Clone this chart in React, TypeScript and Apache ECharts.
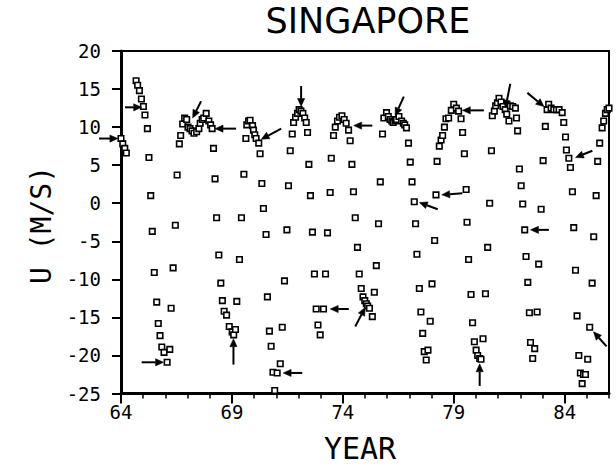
import React, { useEffect, useRef } from "react";
import * as echarts from "echarts";

const yearsA = [64.00, 64.08, 64.17, 64.24, 64.68, 64.75, 64.83, 64.92, 65.01, 65.08, 65.19, 65.26, 65.34, 65.41, 65.50, 65.61, 65.68, 65.76, 65.84, 65.94, 66.08, 66.20, 66.26, 66.35, 66.45, 66.53, 66.63, 66.69, 66.78, 66.87, 66.96, 67.02, 67.11, 67.20, 67.29, 67.41, 67.51, 67.57, 67.66, 67.73, 67.84, 67.96, 68.04, 68.11];
const windA = [8.5, 7.8, 7.2, 6.6, 16.1, 15.5, 14.8, 13.7, 12.7, 11.6, 9.8, 6.0, 1.0, -3.7, -9.1, -13.0, -15.8, -17.4, -18.9, -19.6, -20.9, -19.2, -13.8, -8.5, -2.9, 3.7, 7.8, 8.9, 10.4, 11.2, 11.0, 10.0, 9.8, 9.5, 9.2, 9.4, 9.8, 10.5, 11.0, 11.2, 11.8, 10.8, 10.3, 9.8];

const yearsB = [68.17, 68.24, 68.31, 68.41, 68.50, 68.57, 68.65, 68.76, 68.88, 69.01, 69.08, 69.16, 69.22, 69.34, 69.43, 69.54, 69.63, 69.67, 69.75, 69.82, 69.93, 69.97, 70.03, 70.09, 70.21, 70.27, 70.35, 70.42, 70.54, 70.60, 70.69, 70.77, 70.85, 70.93, 71.04, 71.18, 71.27, 71.37, 71.48, 71.55, 71.63, 71.72, 71.78, 71.87, 71.96, 72.03, 72.11, 72.20, 72.28, 72.35, 72.41, 72.47, 72.54, 72.63, 72.72, 72.80, 72.88, 72.98];
const windB = [7.2, 3.2, -1.9, -6.8, -10.5, -12.8, -14.2, -14.7, -16.2, -16.9, -17.3, -16.6, -12.9, -7.4, -1.9, 3.8, 8.5, 10.3, 10.8, 10.9, 10.2, 9.6, 9.0, 8.5, 7.9, 6.5, 2.6, -0.7, -4.1, -12.3, -16.8, -18.8, -22.2, -24.6, -22.3, -21.1, -16.3, -10.2, -3.5, 2.3, 6.9, 9.1, 10.6, 11.3, 11.8, 12.3, 12.1, 11.8, 11.2, 10.6, 9.3, 5.1, 1.0, -3.8, -9.3, -13.9, -16.0, -17.3];

const yearsC = [73.13, 73.22, 73.31, 73.43, 73.48, 73.58, 73.66, 73.76, 73.85, 73.96, 74.06, 74.15, 74.26, 74.33, 74.41, 74.48, 74.56, 74.66, 74.74, 74.83, 74.91, 74.99, 75.06, 75.12, 75.20, 75.33, 75.42, 75.51, 75.61, 75.69, 75.79, 75.85, 75.97, 76.05, 76.13, 76.21, 76.27, 76.35, 76.42, 76.53, 76.65, 76.73, 76.79, 76.87, 76.96, 77.04, 77.12, 77.22, 77.28, 77.34, 77.45, 77.52, 77.60, 77.67, 77.76, 77.84, 77.94, 78.02, 78.14];
const windC = [-13.9, -9.3, -3.9, 1.4, 5.9, 8.9, 10.0, 10.8, 11.3, 11.5, 11.0, 10.5, 9.6, 8.2, 5.1, 1.5, -1.9, -5.8, -9.3, -11.2, -12.3, -12.8, -13.2, -13.5, -13.8, -14.9, -11.7, -8.2, -2.7, 2.8, 9.1, 11.2, 11.9, 11.4, 11.0, 10.8, 10.6, 10.8, 11.0, 11.4, 10.8, 10.5, 10.3, 9.9, 7.9, 5.4, 2.8, 0.2, -2.7, -6.7, -11.2, -14.3, -17.1, -19.5, -20.6, -19.3, -15.5, -10.6, -4.9];

const yearsD = [78.20, 78.25, 78.35, 78.43, 78.50, 78.58, 78.65, 78.77, 78.89, 79.00, 79.12, 79.22, 79.33, 79.40, 79.48, 79.56, 79.60, 79.67, 79.78, 79.85, 79.93, 80.01, 80.08, 80.17, 80.23, 80.32, 80.43, 80.53, 80.62, 80.70, 80.74, 80.83, 80.89, 80.97, 81.04, 81.13, 81.22, 81.32, 81.39, 81.49, 81.55, 81.66, 81.78, 81.83, 81.88, 81.96, 82.04, 82.11, 82.20, 82.26, 82.34, 82.41, 82.46, 82.56, 82.65, 82.76, 82.83, 82.94, 83.03, 83.13, 83.21, 83.28, 83.39, 83.51, 83.63, 83.75, 83.89, 83.96, 84.04, 84.08, 84.19, 84.26, 84.35, 84.41, 84.49, 84.56, 84.64, 84.71, 84.79, 84.85, 84.94, 85.04, 85.13, 85.24, 85.31, 85.42, 85.49, 85.58, 85.69, 85.76, 85.84, 85.92, 86.00];
const windD = [1.1, 5.5, 7.5, 8.3, 8.9, 10.0, 11.1, 11.2, 12.2, 13.0, 12.5, 12.1, 11.1, 9.3, 6.5, 1.8, -2.5, -7.4, -12.0, -15.7, -18.2, -19.3, -20.0, -20.4, -20.5, -17.8, -11.9, -5.8, 0.0, 6.9, 11.5, 12.1, 12.8, 13.2, 13.8, 13.3, 12.7, 12.3, 11.7, 10.8, 12.8, 12.7, 12.5, 11.2, 9.5, 4.5, 2.3, -0.1, -3.5, -7.0, -10.4, -14.4, -18.3, -20.4, -19.1, -14.3, -8.0, -0.8, 5.6, 10.1, 12.3, 13.0, 12.5, 12.3, 12.3, 12.3, 11.9, 10.6, 8.7, 7.0, 5.9, 4.7, 1.5, -3.2, -8.8, -14.8, -20.0, -22.3, -23.7, -22.5, -22.5, -20.5, -16.3, -10.5, -4.4, 1.0, 5.5, 7.9, 9.9, 10.8, 11.8, 12.3, 12.5];

// Annotation arrows: [tip year, tip U, tail year, tail U]
const arrows = [
  [63.86, 8.5, 63.01, 8.5],
  [64.93, 12.6, 64.18, 12.6],
  [65.92, -20.9, 64.93, -20.9],
  [67.23, 11.2, 67.61, 13.4],
  [68.24, 9.8, 69.19, 9.8],
  [69.07, -17.8, 69.07, -21.2],
  [70.32, 8.4, 71.22, 9.8],
  [71.31, -22.3, 72.17, -22.3],
  [72.12, 12.7, 72.12, 15.4],
  [73.43, -13.9, 74.27, -13.9],
  [74.49, 10.2, 75.33, 10.2],
  [75.01, -13.7, 74.56, -16.2],
  [76.36, 11.5, 76.75, 14.0],
  [77.45, 0.1, 78.28, -0.8],
  [78.46, 1.1, 79.39, 1.3],
  [79.39, 12.2, 80.36, 12.2],
  [80.17, -21.1, 80.17, -24.0],
  [81.33, 12.5, 81.55, 15.7],
  [82.46, -3.5, 83.29, -3.5],
  [83.07, 12.7, 82.32, 14.5],
  [84.49, 6.0, 85.25, 6.9],
  [85.30, -16.9, 85.89, -18.8],
];

const yearTicks = [64, 69, 74, 79, 84];
const FONT = "DejaVu Sans Mono";

function pairs(xs: number[], ys: number[]) {
  return xs.map((x, i) => [x, ys[i]]);
}

export default function App() {
  const ref = useRef<HTMLDivElement>(null);
  useEffect(() => {
    const chart = echarts.init(ref.current!, null, { renderer: "svg" });
    const points = [
      ...pairs(yearsA, windA),
      ...pairs(yearsB, windB),
      ...pairs(yearsC, windC),
      ...pairs(yearsD, windD),
    ];
    const renderArrow = (_params: any, api: any) => {
      const tip = api.coord([api.value(0), api.value(1)]);
      const tail = api.coord([api.value(2), api.value(3)]);
      const dx = tip[0] - tail[0];
      const dy = tip[1] - tail[1];
      const len = Math.hypot(dx, dy) || 1;
      const ux = dx / len;
      const uy = dy / len;
      const headLen = 8;
      const headW = 3.6;
      const bx = tip[0] - ux * headLen;
      const by = tip[1] - uy * headLen;
      return {
        type: "group",
        children: [
          {
            type: "line",
            shape: { x1: tail[0], y1: tail[1], x2: bx, y2: by },
            style: { stroke: "#000", lineWidth: 2 },
          },
          {
            type: "polygon",
            shape: {
              points: [
                [tip[0], tip[1]],
                [bx - uy * headW, by + ux * headW],
                [bx + uy * headW, by - ux * headW],
              ],
            },
            style: { fill: "#000", stroke: "#000", lineWidth: 0.5 },
          },
        ],
      };
    };
    chart.setOption({
      animation: false,
      backgroundColor: "#fff",
      grid: {
        left: 121,
        right: 7,
        top: 51,
        bottom: 73.5,
        show: true,
        borderColor: "#000",
        borderWidth: 2,
        backgroundColor: "transparent",
      },
      xAxis: [
        {
          type: "value",
          min: 64,
          max: 86,
          interval: 1,
          position: "bottom",
          axisLine: { show: true, onZero: false, lineStyle: { color: "#000", width: 3 } },
          axisTick: {
            show: true,
            length: 10,
            customValues: yearTicks,
            lineStyle: { color: "#000", width: 2 },
          },
          axisLabel: {
            customValues: yearTicks,
            margin: 9,
            color: "#000",
            fontFamily: FONT,
            fontSize: 19,
          },
          splitLine: { show: false },
        },
        {
          type: "value",
          min: 64,
          max: 86,
          interval: 1,
          position: "bottom",
          axisLine: { show: false, onZero: false },
          axisTick: { show: true, length: 5, lineStyle: { color: "#000", width: 1.5 } },
          axisLabel: { show: false },
          splitLine: { show: false },
        },
      ],
      yAxis: {
        type: "value",
        min: -25,
        max: 20,
        interval: 5,
        axisLine: { show: true, onZero: false, lineStyle: { color: "#000", width: 3 } },
        axisTick: { show: true, length: 9, lineStyle: { color: "#000", width: 2 } },
        axisLabel: { margin: 20, color: "#000", fontFamily: FONT, fontSize: 19 },
        splitLine: { show: false },
      },
      series: [
        {
          type: "scatter",
          xAxisIndex: 0,
          data: points,
          symbol: "rect",
          symbolSize: 5.5,
          itemStyle: { color: "#fff", borderColor: "#000", borderWidth: 1.6, opacity: 1 },
          z: 3,
        },
        {
          type: "custom",
          xAxisIndex: 0,
          data: arrows,
          clip: false,
          encode: { x: [0, 2], y: [1, 3] },
          renderItem: renderArrow,
          z: 4,
        },
      ],
      graphic: [
        {
          type: "text",
          x: 368,
          y: 21,
          style: {
            text: "SINGAPORE",
            fill: "#000",
            fontFamily: "DejaVu Sans",
            fontSize: 35,
            align: "center",
            verticalAlign: "middle",
            textAlign: "center",
            textVerticalAlign: "middle",
          },
        },
        {
          type: "text",
          x: 41,
          y: 225,
          rotation: Math.PI / 2,
          style: {
            text: "U (M/S)",
            fill: "#000",
            fontFamily: FONT,
            fontSize: 28,
            align: "center",
            verticalAlign: "middle",
            textAlign: "center",
            textVerticalAlign: "middle",
          },
        },
        {
          type: "text",
          x: 360,
          y: 448,
          style: {
            text: "YEAR",
            fill: "#000",
            fontFamily: FONT,
            fontSize: 30,
            align: "center",
            verticalAlign: "middle",
            textAlign: "center",
            textVerticalAlign: "middle",
          },
        },
      ],
    });
    return () => chart.dispose();
  }, []);
  return (
    <div
      ref={ref}
      style={{ position: "absolute", left: 0, top: 0, width: 616, height: 467 }}
    />
  );
}
